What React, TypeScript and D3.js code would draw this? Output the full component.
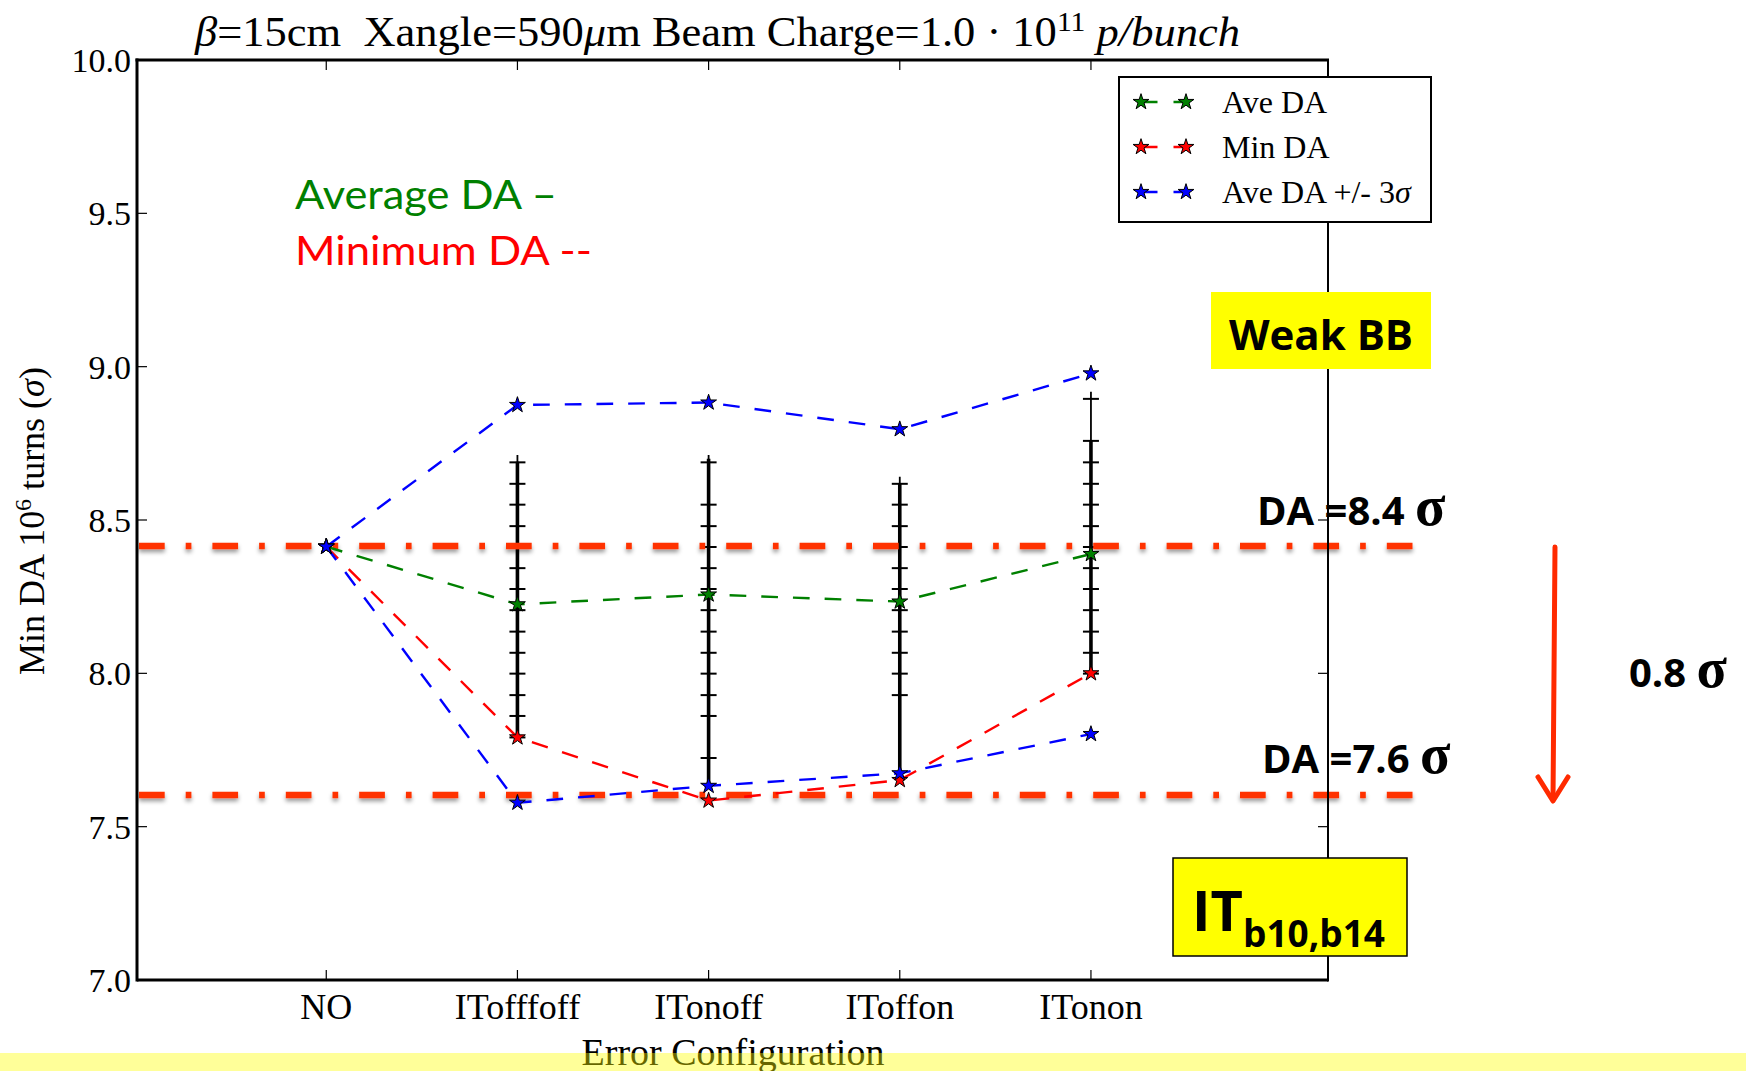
import React from "react";
import * as d3 from "d3";

// ---------- data ----------
const categories = ["NO", "ITofffoff", "ITonoff", "IToffon", "ITonon"];
const catPos = [1, 2, 3, 4, 5];
const aveDA = [8.413, 8.225, 8.257, 8.234, 8.389];
const minDA = [8.413, 7.791, 7.585, 7.652, 8.0];
const avePlus3 = [8.413, 8.875, 8.883, 8.796, 8.978];
const aveMinus3 = [8.413, 7.578, 7.633, 7.674, 7.802];

// error-bar whiskers (index 0 = NO has none)
const errTop = [NaN, 8.712, 8.712, 8.641, 8.918];
const errBottom = [NaN, 7.791, 7.633, 7.674, 8.0];
const denseTop = [NaN, 8.69, 8.7, 8.618, 8.76];
const denseBottom = [NaN, 7.791, 7.633, 7.674, 8.0];
const capsITofffoff = [8.688, 8.618, 8.55, 8.48, 8.412, 8.343, 8.275, 8.206, 8.136, 8.067, 7.999, 7.929, 7.861, 7.791];
const capsITonoff = [8.688, 8.55, 8.48, 8.412, 8.343, 8.275, 8.206, 8.136, 8.067, 7.999, 7.929, 7.861, 7.724];
const capsIToffon = [8.618, 8.55, 8.48, 8.412, 8.343, 8.275, 8.206, 8.136, 8.067, 7.999, 7.929];
const capsITonon = [8.895, 8.758, 8.688, 8.618, 8.55, 8.48, 8.412, 8.343, 8.275, 8.206, 8.136, 8.067, 7.999];
const capsByCat = [[], capsITofffoff, capsITonoff, capsIToffon, capsITonon];

const yTicks = [7.0, 7.5, 8.0, 8.5, 9.0, 9.5, 10.0];
const daLevels = [8.415, 7.603];
const daLabels = ["DA =8.4 ", "DA =7.6 "];

const seriesColors = { ave: "#008000", min: "#ff0000", sig: "#0000ff" };

// ---------- layout ----------
const W = 1746;
const H = 1071;
const left = 137;
const right = 1328;
const top = 60;
const bottom = 980;

const x = d3.scaleLinear().domain([0.01, 6.24]).range([left, right]);
const y = d3.scaleLinear().domain([7, 10]).range([bottom, top]);

const starPath = d3.symbol().type(d3.symbolStar).size(78)() as string;
const lineGen = d3
  .line<number>()
  .x((_, i) => x(catPos[i]))
  .y((d) => y(d));

const serif = "'Liberation Serif', 'DejaVu Serif', serif";
const sansBold = "'Open Sans', 'Noto Sans', sans-serif";

function Stars({ values, color }: { values: number[]; color: string }) {
  return (
    <g>
      {values.map((v, i) => (
        <path
          key={i}
          d={starPath}
          transform={`translate(${x(catPos[i])},${y(v)})`}
          fill={color}
          stroke="#000"
          strokeWidth={1}
        />
      ))}
    </g>
  );
}

export default function App() {
  const dash = "16.7 15";
  const upperBlue = avePlus3;
  const legendItems = [
    { label: "Ave DA", color: seriesColors.ave, sigma: false },
    { label: "Min DA", color: seriesColors.min, sigma: false },
    { label: "Ave DA +/- 3", color: seriesColors.sig, sigma: true },
  ];
  const legendRows = [102, 147, 192];

  return (
    <div style={{ position: "absolute", left: 0, top: 0, width: W, height: H, background: "#fff" }}>
      <svg width={W} height={H} viewBox={`0 0 ${W} ${H}`} style={{ display: "block" }}>
        <defs>
          <filter id="shadow" filterUnits="userSpaceOnUse" x={0} y={0} width={W} height={H}>
            <feDropShadow dx="0" dy="3" stdDeviation="2.2" floodColor="#000" floodOpacity="0.4" />
          </filter>
        </defs>
        <rect x={0} y={0} width={W} height={H} fill="#fff" />

        {/* title */}
        <text
          x={195}
          y={46}
          fontFamily={serif}
          fontSize={42}
          style={{ whiteSpace: "pre" }}
          fill="#000"
          textLength={1045}
          lengthAdjust="spacingAndGlyphs"
        >
          <tspan fontStyle="italic">β</tspan>
          <tspan>=15cm  Xangle=590</tspan>
          <tspan fontStyle="italic">μ</tspan>
          <tspan>m Beam Charge=1.0 · 10</tspan>
          <tspan dy={-15} fontSize={28}>11</tspan>
          <tspan dy={15} fontStyle="italic"> p/bunch</tspan>
        </text>

        {/* y tick labels */}
        {yTicks.map((t) => (
          <text
            key={t}
            x={131}
            y={y(t)}
            dy="0.35em"
            textAnchor="end"
            fontFamily={serif}
            fontSize={34}
            fill="#000"
          >
            {t.toFixed(1)}
          </text>
        ))}

        {/* ticks */}
        {yTicks.map((t) => (
          <g key={"yt" + t} stroke="#000" strokeWidth={1.2}>
            <line x1={left} x2={left + 10} y1={y(t)} y2={y(t)} />
            <line x1={right} x2={right - 10} y1={y(t)} y2={y(t)} />
          </g>
        ))}
        {catPos.map((c) => (
          <g key={"xt" + c} stroke="#000" strokeWidth={1.2}>
            <line x1={x(c)} x2={x(c)} y1={bottom} y2={bottom - 10} />
            <line x1={x(c)} x2={x(c)} y1={top} y2={top + 10} />
          </g>
        ))}

        {/* x tick labels */}
        {categories.map((c, i) => (
          <text
            key={c}
            x={x(catPos[i])}
            y={1019}
            textAnchor="middle"
            fontFamily={serif}
            fontSize={36}
            fill="#000"
          >
            {c}
          </text>
        ))}

        {/* y label */}
        <text
          transform={`translate(44,521) rotate(-90)`}
          textAnchor="middle"
          fontFamily={serif}
          fontSize={36}
          fill="#000"
          style={{ whiteSpace: "pre" }}
        >
          <tspan>Min DA 10</tspan>
          <tspan dy={-13} fontSize={24}>6</tspan>
          <tspan dy={13}> turns (</tspan>
          <tspan fontStyle="italic">σ</tspan>
          <tspan>)</tspan>
        </text>

        {/* x label */}
        <text x={733} y={1065} textAnchor="middle" fontFamily={serif} fontSize={38} fill="#000">
          Error Configuration
        </text>

        {/* error bars */}
        {catPos.map((c, i) =>
          i === 0 ? null : (
            <g key={"eb" + i} stroke="#000">
              <line x1={x(c)} x2={x(c)} y1={y(errTop[i])} y2={y(errBottom[i])} strokeWidth={1.8} />
              <line x1={x(c)} x2={x(c)} y1={y(denseTop[i])} y2={y(denseBottom[i])} strokeWidth={3.6} />
              {capsByCat[i].map((v, k) => (
                <line key={k} x1={x(c) - 8} x2={x(c) + 8} y1={y(v)} y2={y(v)} strokeWidth={2} />
              ))}
            </g>
          )
        )}

        {/* DA level lines */}
        {daLevels.map((v, i) => (
          <line
            key={"da" + i}
            x1={139}
            x2={1416}
            y1={y(v)}
            y2={y(v)}
            stroke="#ff3300"
            strokeWidth={6.5}
            strokeDasharray="25.7 21 5.7 21"
            filter="url(#shadow)"
          />
        ))}

        {/* series lines */}
        <path d={lineGen(aveDA) as string} fill="none" stroke={seriesColors.ave} strokeWidth={2.4} strokeDasharray={dash} />
        <path d={lineGen(minDA) as string} fill="none" stroke={seriesColors.min} strokeWidth={2.4} strokeDasharray={dash} />
        <path d={lineGen(aveMinus3) as string} fill="none" stroke={seriesColors.sig} strokeWidth={2.4} strokeDasharray={dash} />
        <path d={lineGen(upperBlue) as string} fill="none" stroke={seriesColors.sig} strokeWidth={2.4} strokeDasharray={dash} />
        <Stars values={aveDA} color={seriesColors.ave} />
        <Stars values={minDA} color={seriesColors.min} />
        <Stars values={aveMinus3} color={seriesColors.sig} />
        <Stars values={upperBlue} color={seriesColors.sig} />

        {/* spines */}
        <g stroke="#000" fill="none">
          <line x1={left} x2={left} y1={top - 1.5} y2={bottom + 1.5} strokeWidth={3} />
          <line x1={left} x2={right} y1={bottom} y2={bottom} strokeWidth={3} />
          <line x1={left - 1.5} x2={right + 1} y1={top} y2={top} strokeWidth={3} />
          <line x1={right} x2={right} y1={top} y2={bottom + 1.5} strokeWidth={2} />
        </g>

        {/* legend */}
        <rect x={1119} y={77} width={312} height={145} fill="#fff" stroke="#000" strokeWidth={2} />
        {legendItems.map((it, i) => (
          <g key={it.label}>
            <line
              x1={1141}
              x2={1186}
              y1={legendRows[i]}
              y2={legendRows[i]}
              stroke={it.color}
              strokeWidth={2.4}
              strokeDasharray="16.5 16"
            />
            <path d={starPath} transform={`translate(1141,${legendRows[i]})`} fill={it.color} stroke="#000" strokeWidth={1} />
            <path d={starPath} transform={`translate(1186,${legendRows[i]})`} fill={it.color} stroke="#000" strokeWidth={1} />
            <text x={1222} y={legendRows[i] + 11} fontFamily={serif} fontSize={32} fill="#000" style={{ whiteSpace: "pre" }}>
              {it.label}
              {it.sigma ? <tspan fontStyle="italic">σ</tspan> : null}
            </text>
          </g>
        ))}

        {/* annotations */}
        <text x={295} y={209} fontFamily="Lato, 'Open Sans', sans-serif" fontSize={40} fill="#008000" textLength={262} lengthAdjust="spacingAndGlyphs">
          Average DA –
        </text>
        <text x={295} y={265} fontFamily="Lato, 'Open Sans', sans-serif" fontSize={40} fill="#ff0000" textLength={297} lengthAdjust="spacingAndGlyphs">
          Minimum DA --
        </text>

        <rect x={1211} y={292} width={220} height={77} fill="#ffff00" />
        <text x={1321} y={350} textAnchor="middle" fontFamily={sansBold} fontWeight="bold" fontSize={42} fill="#000">
          Weak BB
        </text>

        {daLevels.map((v, i) => (
          <text
            key={"dal" + i}
            x={i === 0 ? 1257 : 1262}
            y={i === 0 ? 525 : 773}
            fontFamily={sansBold}
            fontWeight="bold"
            fontSize={40}
            fill="#000"
            style={{ whiteSpace: "pre" }}
          >
            {daLabels[i]}
            <tspan fontFamily={serif} fontWeight="bold" fontSize={56}>σ</tspan>
          </text>
        ))}
        <text x={1629} y={687} fontFamily={sansBold} fontWeight="bold" fontSize={40} fill="#000" style={{ whiteSpace: "pre" }}>
          {"0.8 "}
          <tspan fontFamily={serif} fontWeight="bold" fontSize={56}>σ</tspan>
        </text>

        {/* arrow */}
        <g stroke="#ff2a00" strokeWidth={5} fill="none" strokeLinecap="round" strokeLinejoin="round">
          <line x1={1555} y1={547} x2={1553} y2={800} />
          <polyline points="1538,777 1553,801 1568,777" />
        </g>

        {/* IT box */}
        <rect x={1173} y={858} width={234} height={98} fill="#ffff00" stroke="#000" strokeWidth={1.5} />
        <text x={1192} y={931} fontFamily={sansBold} fontWeight="bold" fontSize={56} fill="#000">
          IT
        </text>
        <text x={1243} y={947} fontFamily={sansBold} fontWeight="bold" fontSize={37} fill="#000">
          b10,b14
        </text>

        {/* bottom pale band */}
        <rect x={0} y={1053} width={W} height={H - 1053} fill="#ffff00" opacity={0.4} />
      </svg>
    </div>
  );
}
